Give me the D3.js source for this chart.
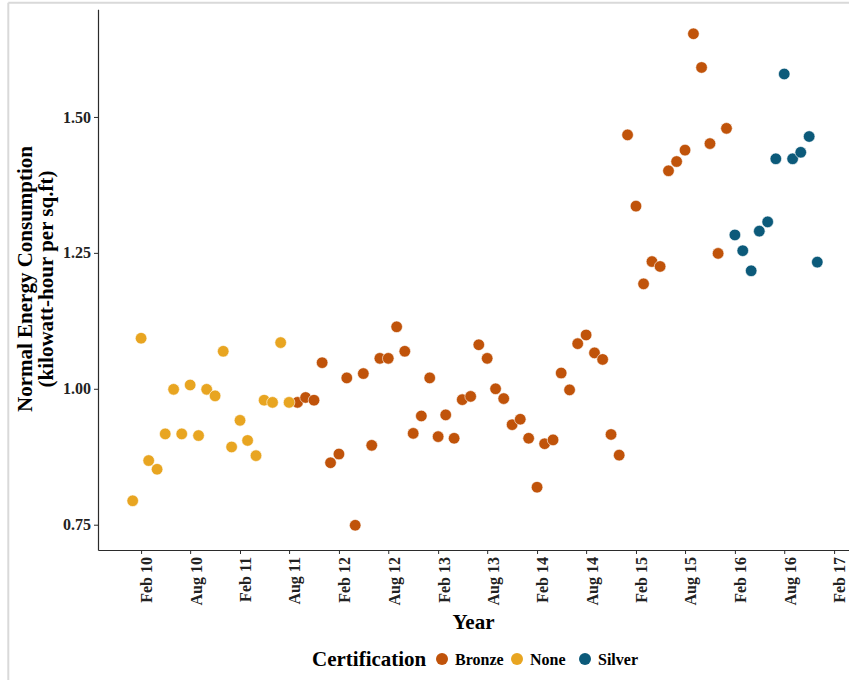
<!DOCTYPE html>
<html>
<head>
<meta charset="utf-8">
<script src="https://cdn.jsdelivr.net/npm/d3@7"></script>
<style>
  html, body { margin: 0; padding: 0; background: #ffffff; }
  svg { display: block; font-family: "Liberation Serif", "Times New Roman", serif; }
</style>
</head>
<body>
<svg id="chart" width="849" height="680"></svg>
<script>
// Monthly normalised energy use, split by certification level
const noneMonths = [
  "2010-01","2010-02","2010-03","2010-04","2010-05","2010-06","2010-07","2010-08","2010-09","2010-10",
  "2010-11","2010-12","2011-01","2011-02","2011-03","2011-04","2011-05","2011-06","2011-07","2011-08"
];
const noneValues = [
  0.794, 1.093, 0.868, 0.852, 0.917, 0.999, 0.917, 1.007, 0.914, 0.999,
  0.987, 1.069, 0.893, 0.942, 0.905, 0.877, 0.979, 0.975, 1.085, 0.975
];

const bronzeMonths = [
  "2011-09","2011-10","2011-11","2011-12",
  "2012-01","2012-02","2012-03","2012-04","2012-05","2012-06","2012-07","2012-08","2012-09","2012-10","2012-11","2012-12",
  "2013-01","2013-02","2013-03","2013-04","2013-05","2013-06","2013-07","2013-08","2013-09","2013-10","2013-11","2013-12",
  "2014-01","2014-02","2014-03","2014-04","2014-05","2014-06","2014-07","2014-08","2014-09","2014-10","2014-11","2014-12",
  "2015-01","2015-02","2015-03","2015-04","2015-05","2015-06","2015-07","2015-08","2015-09","2015-10","2015-11","2015-12",
  "2016-01"
];
const bronzeValues = [
  0.975, 0.984, 0.979, 1.048,
  0.864, 0.880, 1.020, 0.749, 1.028, 0.896, 1.056, 1.056, 1.114, 1.069, 0.918, 0.950,
  1.020, 0.912, 0.952, 0.909, 0.980, 0.986, 1.081, 1.056, 1.000, 0.982, 0.934, 0.944,
  0.909, 0.819, 0.899, 0.906, 1.029, 0.998, 1.083, 1.099, 1.066, 1.054, 0.916, 0.878,
  1.467, 1.336, 1.193, 1.234, 1.225, 1.401, 1.418, 1.439, 1.653, 1.591, 1.451, 1.249,
  1.479
];

const silverMonths = [
  "2016-02","2016-03","2016-04","2016-05","2016-06","2016-07","2016-08","2016-09","2016-10","2016-11","2016-12"
];
const silverValues = [
  1.283, 1.254, 1.217, 1.290, 1.307, 1.423, 1.579, 1.423, 1.435, 1.464, 1.233
];

const categories = ["Bronze", "None", "Silver"];
const categoryColors = ["#c0530a", "#e8a521", "#0c5a7a"];

const xTickDates = [
  "2010-02","2010-08","2011-02","2011-08","2012-02","2012-08","2013-02","2013-08",
  "2014-02","2014-08","2015-02","2015-08","2016-02","2016-08","2017-02"
];
const yTickValues = [0.75, 1.00, 1.25, 1.50];

// ---------------------------------------------------------------------------
const parseMonth = d3.utcParse("%Y-%m");
const seriesMonths = { Bronze: bronzeMonths, None: noneMonths, Silver: silverMonths };
const seriesValues = { Bronze: bronzeValues, None: noneValues, Silver: silverValues };

const points = [];
categories.forEach(cat => {
  seriesMonths[cat].forEach((m, i) => {
    points.push({ cat, date: parseMonth(m), value: seriesValues[cat][i] });
  });
});

const svg = d3.select("#chart");
const W = 849, H = 680;
const plotLeft = 98, plotRight = 849, plotTop = 9.3, plotBottom = 550;

// Thin frame along the top and left edges
svg.append("line").attr("x1", 8.3).attr("x2", W).attr("y1", 2.8).attr("y2", 2.8)
  .attr("stroke", "#d9d9d9").attr("stroke-width", 2);
svg.append("line").attr("x1", 8.3).attr("x2", 8.3).attr("y1", 2.8).attr("y2", H)
  .attr("stroke", "#d9d9d9").attr("stroke-width", 2);

const x = d3.scaleUtc()
  .domain([new Date(Date.UTC(2009, 7, 26)), new Date(Date.UTC(2017, 2, 28))])
  .range([plotLeft, plotRight]);

const y = d3.scaleLinear()
  .domain([0.7035, 1.698])
  .range([plotBottom, plotTop]);

const color = d3.scaleOrdinal().domain(categories).range(categoryColors);

// Points
svg.append("g")
  .selectAll("circle")
  .data(points)
  .join("circle")
  .attr("cx", d => x(d.date))
  .attr("cy", d => y(d.value))
  .attr("r", 5.8)
  .attr("fill", d => color(d.cat))
  .attr("stroke", "#ffffff")
  .attr("stroke-width", 0.6);

// Axes
const axisColor = "#2b2b2b";
const tickFont = "16px";

const yAxis = svg.append("g")
  .attr("transform", `translate(${plotLeft},0)`)
  .call(d3.axisLeft(y).tickValues(yTickValues).tickFormat(d3.format(".2f"))
    .tickSize(4).tickSizeOuter(0).tickPadding(3));
yAxis.select(".domain").attr("stroke", axisColor).attr("stroke-width", 1.2);
yAxis.selectAll(".tick line").attr("stroke", axisColor).attr("stroke-width", 1);
yAxis.selectAll(".tick text")
  .attr("fill", "#222")
  .style("font-family", "'Liberation Serif', 'Times New Roman', serif")
  .style("font-size", tickFont)
  .style("font-weight", "bold");

const xAxis = svg.append("g")
  .attr("transform", `translate(0,${plotBottom})`)
  .call(d3.axisBottom(x).tickValues(xTickDates.map(parseMonth))
    .tickFormat(d3.utcFormat("%b %y")).tickSize(4).tickSizeOuter(0));
xAxis.select(".domain").attr("stroke", axisColor).attr("stroke-width", 1.2);
xAxis.selectAll(".tick line").attr("stroke", axisColor).attr("stroke-width", 1);
xAxis.selectAll(".tick text")
  .attr("fill", "#222")
  .style("font-family", "'Liberation Serif', 'Times New Roman', serif")
  .style("font-size", tickFont)
  .style("font-weight", "bold")
  .attr("text-anchor", "end")
  .attr("transform", "rotate(-90)")
  .attr("x", -7)
  .attr("y", 0)
  .attr("dy", "0.68em");

// Axis titles
const yTitle = svg.append("text")
  .attr("transform", "translate(0,279) rotate(-90)")
  .attr("text-anchor", "middle")
  .style("font-size", "21px")
  .style("font-weight", "bold")
  .attr("fill", "#000");
yTitle.append("tspan").attr("x", 0).attr("y", 32).text("Normal Energy Consumption");
yTitle.append("tspan").attr("x", 0).attr("y", 53).text("(kilowatt-hour per sq.ft)");

svg.append("text")
  .attr("x", (plotLeft + plotRight) / 2)
  .attr("y", 629)
  .attr("text-anchor", "middle")
  .style("font-size", "21px")
  .style("font-weight", "bold")
  .attr("fill", "#000")
  .text("Year");

// Legend
const legend = svg.append("g").attr("transform", "translate(0,659)");
legend.append("text")
  .attr("x", 312).attr("y", 7)
  .style("font-size", "21px").style("font-weight", "bold").attr("fill", "#000")
  .text("Certification");

const legendX = [442, 517, 585];
categories.forEach((cat, i) => {
  legend.append("circle")
    .attr("cx", legendX[i]).attr("cy", 0).attr("r", 6)
    .attr("fill", color(cat));
  legend.append("text")
    .attr("x", legendX[i] + 13).attr("y", 5.5)
    .style("font-size", "16px").style("font-weight", "bold").attr("fill", "#000")
    .text(cat);
});
</script>
</body>
</html>
